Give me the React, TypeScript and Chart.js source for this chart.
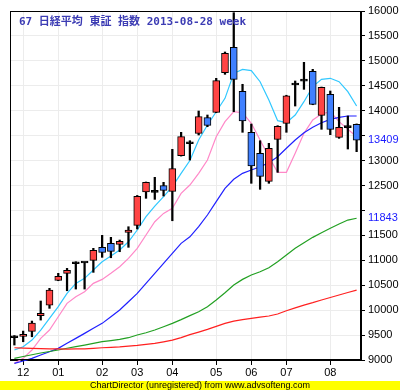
import React, { useEffect, useRef } from "react";
import { Chart, registerables } from "chart.js";

Chart.register(...registerables);

// Weekly categories (Nov 2012 - Aug 2013); only month starts carry a label
const monthLabels = [
  "", "12", "", "", "", "01", "", "", "", "",
  "02", "", "", "", "03", "", "", "", "04", "",
  "", "", "", "05", "", "", "", "06", "", "",
  "", "07", "", "", "", "", "08", "", "", "",
];

const opens = [
  9446, 9474, 9575, 9888, 10102, 10598, 10738, 10931, 10950, 10999,
  11260, 11340, 11320, 11560, 11701, 12369, 12363, 12496, 12383, 13097,
  13338, 13547, 13860, 13968, 14762, 15272, 14389, 13567, 13145, 12584,
  13426, 13747, 14516, 14595, 14790, 13908, 14329, 13466, 13660, 13727,
];
const highs = [
  9490, 9580, 9781, 10183, 10437, 10738, 10838, 10971, 10955, 11240,
  11500, 11460, 11406, 11673, 12300, 12570, 12664, 12564, 13226, 13567,
  13398, 13994, 13914, 14650, 15178, 15966, 14530, 13733, 13398, 13346,
  13700, 14310, 14596, 14971, 14830, 14475, 14395, 14068, 13894, 13735,
];
const lows = [
  9300, 9366, 9466, 9801, 10036, 10590, 10389, 10423, 10423, 10758,
  11059, 11051, 11172, 11260, 11627, 12243, 12222, 12289, 11793, 13090,
  13011, 13513, 13679, 13960, 14730, 13980, 13567, 12544, 12423, 12544,
  12764, 13567, 14094, 14429, 14120, 13627, 13519, 13446, 13232, 13178,
];
const closes = [
  9446, 9514, 9741, 9936, 10403, 10678, 10798, 10931, 10945, 11200,
  11160, 11180, 11380, 11607, 12283, 12564, 12363, 12403, 12837, 13479,
  13338, 13880, 13707, 14602, 15151, 14630, 13793, 12891, 12684, 13246,
  13687, 14301, 14516, 14602, 14128, 14469, 13627, 13667, 13660, 13409,
];

// Moving averages
const maCyan = [
  9200, 9266, 9400, 9601, 9835, 10069, 10336, 10537, 10637, 10804,
  10971, 11085, 11206, 11372, 11607, 11874, 12088, 12276, 12476, 12744,
  13000, 13412, 13713, 13980, 14248, 14750, 14830, 14803, 14582, 14215,
  13800, 13760, 13914, 14181, 14483, 14630, 14650, 14582, 14382, 14094,
];
const maPink = [
  8932, 9033, 9200, 9434, 9601, 9868, 10136, 10269, 10370, 10537,
  10617, 10738, 10871, 11039, 11240, 11507, 11774, 11941, 12042, 12343,
  12510, 12744, 13011, 13479, 13780, 13980, 13960, 13747, 13412, 13078,
  12764, 12764, 13145, 13546, 13813, 13934, 13980, 13780, 13627, 13479,
];
const maBlue = [
  8932, 8979, 9033, 9100, 9166, 9234, 9334, 9434, 9534, 9635,
  9735, 9868, 10002, 10169, 10336, 10537, 10738, 10938, 11139, 11340,
  11470, 11673, 11908, 12175, 12443, 12624, 12744, 12810, 12877, 12957,
  13078, 13246, 13412, 13559, 13667, 13760, 13827, 13867, 13894, 13894,
];
const maGreen = [
  9033, 9070, 9105, 9140, 9170, 9200, 9235, 9268, 9300, 9335,
  9367, 9390, 9414, 9447, 9501, 9547, 9601, 9667, 9735, 9810,
  9890, 9968, 10069, 10203, 10350, 10504, 10617, 10704, 10771, 10851,
  10971, 11105, 11240, 11353, 11460, 11553, 11641, 11727, 11807, 11843,
];
const maRed = [
  9246, 9240, 9235, 9230, 9225, 9222, 9220, 9222, 9225, 9235,
  9246, 9255, 9265, 9280, 9295, 9315, 9334, 9365, 9400, 9450,
  9510, 9560, 9614, 9675, 9735, 9781, 9810, 9835, 9860, 9882,
  9922, 9988, 10045, 10102, 10150, 10203, 10253, 10303, 10353, 10403,
];

// Right axis
const yGridTicks = [
  9000, 9500, 10000, 10500, 11000, 11500, 12000, 12500, 13000, 13500,
  14000, 14500, 15000, 15500, 16000,
];
const yHiddenLabels = [12000, 13500];
const yHighlightTicks = [11843, 13409];

const TITLE = "67 日経平均 東証 指数 2013-08-28 week";
const FOOTER = "ChartDirector (unregistered) from www.advsofteng.com";

const RED = "#ff4444";
const BLUE = "#4080ff";

export default function App() {
  const canvasRef = useRef<HTMLCanvasElement | null>(null);

  useEffect(() => {
    const canvas = canvasRef.current;
    if (!canvas) return;

    const bodyColors = opens.map((o, i) =>
      Math.abs(closes[i] - o) < 20 ? "#000000" : closes[i] > o ? RED : BLUE
    );

    const framePlugin = {
      id: "frame",
      afterDraw(chart: any) {
        const { ctx, chartArea } = chart;
        const l = Math.round(chartArea.left) + 0.5;
        const t = Math.round(chartArea.top) + 0.5;
        const r = Math.round(chartArea.right) - 0.5;
        const b = Math.round(chartArea.bottom) - 0.5;
        ctx.save();
        ctx.strokeStyle = "#000";
        ctx.lineWidth = 1;
        ctx.strokeRect(l, t, r - l, b - t);
        ctx.restore();
      },
    };

    const lineDs = (data: number[], color: string) => ({
      type: "line" as const,
      data,
      borderColor: color,
      borderWidth: 1.2,
      pointRadius: 0,
      tension: 0,
      fill: false,
      order: 3,
      clip: false as any,
    });

    const chart = new Chart(canvas, {
      type: "bar",
      data: {
        labels: monthLabels,
        datasets: [
          lineDs(maRed, "#ff2020"),
          lineDs(maGreen, "#22a022"),
          lineDs(maBlue, "#2020ff"),
          lineDs(maPink, "#ff88c8"),
          lineDs(maCyan, "#30c8ff"),
          {
            type: "bar",
            data: lows.map((l, i) => [l, highs[i]]),
            backgroundColor: "#000000",
            barThickness: 1.6,
            grouped: false,
            order: 2,
          } as any,
          {
            type: "bar",
            data: opens.map((o, i) => [o, closes[i]]),
            backgroundColor: bodyColors,
            borderColor: "#000000",
            borderWidth: 1,
            borderSkipped: false,
            barThickness: 7,
            minBarLength: 2,
            grouped: false,
            order: 1,
          } as any,
        ],
      },
      options: {
        animation: false,
        responsive: false,
        maintainAspectRatio: false,
        layout: { padding: { left: 10, top: 11, right: 0, bottom: 0 } },
        plugins: {
          legend: { display: false },
          tooltip: { enabled: false },
          title: { display: false },
        },
        scales: {
          x: {
            type: "category",
            offset: true,
            afterFit(scale: any) {
              scale.height = 21;
            },
            grid: {
              offset: false,
              color: (ctx: any) => (monthLabels[ctx.index] ? "#ececec" : "rgba(0,0,0,0)"),
              tickColor: (ctx: any) => (monthLabels[ctx.index] ? "#000000" : "rgba(0,0,0,0)"),
              tickLength: 5,
              drawTicks: true,
            },
            border: { display: true, color: "#000", width: 1 },
            ticks: {
              autoSkip: false,
              maxRotation: 0,
              minRotation: 0,
              padding: 1,
              color: "#000",
              font: { family: "'Liberation Sans', Arial, sans-serif", size: 11 },
            },
          },
          y: {
            type: "linear",
            position: "right",
            min: 9000,
            max: 16000,
            afterFit(scale: any) {
              scale.width = 39;
            },
            afterBuildTicks(scale: any) {
              const vals = [...yGridTicks, ...yHighlightTicks].sort((a, b) => a - b);
              scale.ticks = vals.map((v) => ({ value: v }));
            },
            grid: {
              color: (ctx: any) =>
                ctx.tick && yHighlightTicks.includes(ctx.tick.value) ? "rgba(0,0,0,0)" : "#ececec",
              tickColor: (ctx: any) =>
                ctx.tick && yHighlightTicks.includes(ctx.tick.value) ? "rgba(0,0,0,0)" : "#000000",
              tickLength: 4,
            },
            border: { display: true, color: "#000", width: 1 },
            ticks: {
              autoSkip: false,
              padding: 3,
              callback: (v: any) => (yHiddenLabels.includes(Number(v)) ? "" : String(v)),
              color: (ctx: any) =>
                ctx.tick && yHighlightTicks.includes(ctx.tick.value) ? "#1a1aff" : "#000000",
              font: { family: "'Liberation Sans', Arial, sans-serif", size: 11 },
            },
          },
        },
      },
      plugins: [framePlugin],
    });

    return () => chart.destroy();
  }, []);

  return (
    <div
      style={{
        position: "absolute",
        left: 0,
        top: 0,
        width: 400,
        height: 390,
        background: "#ffffff",
        overflow: "hidden",
      }}
    >
      <canvas ref={canvasRef} width={400} height={381} style={{ display: "block" }} />
      <div
        style={{
          position: "absolute",
          left: 19,
          top: 15,
          fontFamily: "'DejaVu Sans Mono', 'Noto Sans CJK JP', monospace",
          fontWeight: "bold",
          fontSize: 11,
          lineHeight: "13px",
          color: "#3c3cb4",
          whiteSpace: "nowrap",
        }}
      >
        {TITLE}
      </div>
      <div
        style={{
          position: "absolute",
          left: 0,
          top: 381,
          width: 400,
          height: 9,
          background: "#ffff00",
          fontFamily: "'Liberation Sans', Arial, sans-serif",
          fontSize: 9,
          lineHeight: "9px",
          textAlign: "center",
          color: "#000",
          whiteSpace: "nowrap",
        }}
      >
        {FOOTER}
      </div>
    </div>
  );
}
